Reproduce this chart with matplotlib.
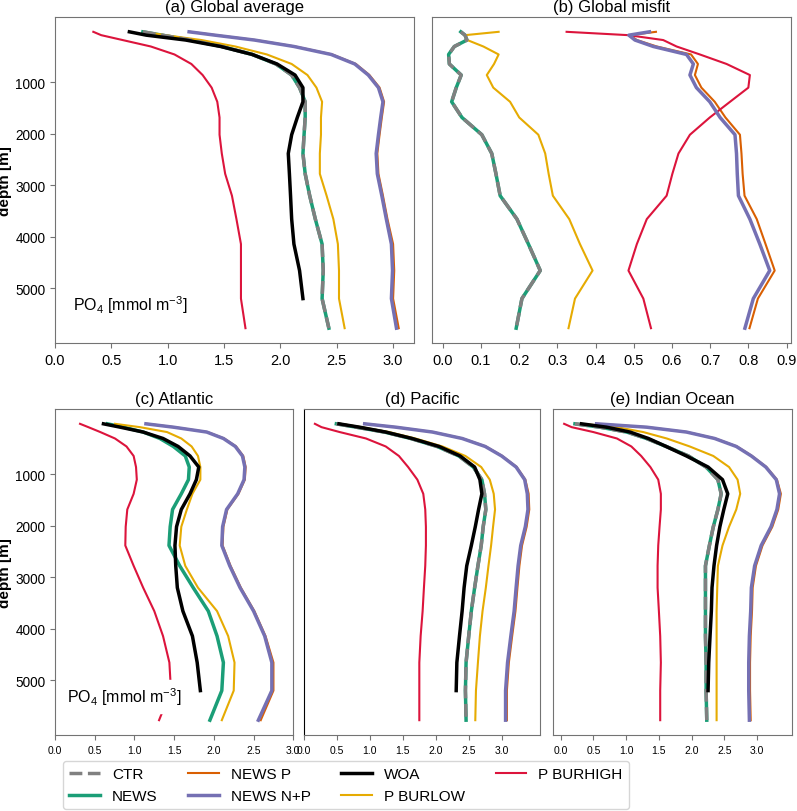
import numpy as np
import matplotlib
matplotlib.use('Agg')
import matplotlib.pyplot as plt

plt.rcParams['font.family'] = ['Liberation Sans', 'DejaVu Sans']
plt.rcParams['mathtext.fontset'] = 'custom'
plt.rcParams['mathtext.rm'] = 'Liberation Sans'
plt.rcParams['mathtext.it'] = 'Liberation Sans:italic'
plt.rcParams['mathtext.bf'] = 'Liberation Sans:bold'

nan = np.nan

# model levels [m]
depth = [17.5, 82.5, 177.5, 302.5, 457.5, 642.5, 857.5, 1102.5, 1377.5, 1682.5,
         2017.5, 2382.5, 2777.5, 3202.5, 3657.5, 4142.5, 4657.5, 5202.5, 5777.5]

# (a) global average PO4
woa_glob = [0.66, 0.81, 1.16, 1.47, 1.75, 1.97, 2.13, 2.20, 2.20, 2.15, 2.10, 2.07, 2.08, 2.09, 2.10, 2.12, 2.17, 2.20, nan]
news_glob = [0.78, 0.95, 1.20, 1.48, 1.75, 1.96, 2.10, 2.17, 2.22, 2.22, 2.21, 2.20, 2.22, 2.26, 2.31, 2.37, 2.38, 2.37, 2.43]
ctr_glob = news_glob  # CTR and NEWS lie on top of each other
newsp_glob = [1.20, 1.43, 1.78, 2.13, 2.46, 2.67, 2.79, 2.88, 2.92, 2.90, 2.88, 2.86, 2.87, 2.91, 2.95, 3.00, 3.01, 3.00, 3.05]
newsnp_glob = [1.19, 1.42, 1.77, 2.12, 2.45, 2.66, 2.78, 2.87, 2.91, 2.89, 2.87, 2.85, 2.86, 2.90, 2.94, 2.985, 2.995, 2.985, 3.03]
burlow_glob = [0.79, 0.98, 1.30, 1.60, 1.88, 2.10, 2.24, 2.32, 2.37, 2.36, 2.36, 2.35, 2.35, 2.41, 2.47, 2.51, 2.52, 2.52, 2.57]
burhigh_glob = [0.34, 0.41, 0.60, 0.85, 1.06, 1.21, 1.31, 1.39, 1.44, 1.46, 1.46, 1.48, 1.51, 1.57, 1.61, 1.65, 1.65, 1.65, 1.69]

# (b) global misfit
news_mis = [0.047, 0.058, 0.063, 0.030, 0.015, 0.017, 0.048, 0.035, 0.023, 0.050, 0.102, 0.128, 0.139, 0.150, 0.194, 0.224, 0.255, 0.207, 0.192]
ctr_mis = news_mis
newsp_mis = [0.558, 0.490, 0.508, 0.560, 0.650, 0.668, 0.660, 0.677, 0.712, 0.740, 0.778, 0.782, 0.785, 0.790, 0.822, 0.845, 0.869, 0.825, 0.803]
newsnp_mis = [0.541, 0.487, 0.503, 0.551, 0.638, 0.656, 0.647, 0.664, 0.699, 0.726, 0.765, 0.769, 0.771, 0.774, 0.804, 0.830, 0.856, 0.813, 0.791]
burlow_mis = [0.146, 0.058, 0.064, 0.106, 0.146, 0.134, 0.115, 0.132, 0.176, 0.200, 0.250, 0.268, 0.277, 0.288, 0.331, 0.359, 0.392, 0.346, 0.329]
burhigh_mis = [0.324, 0.486, 0.577, 0.612, 0.673, 0.743, 0.804, 0.800, 0.752, 0.699, 0.647, 0.617, 0.601, 0.586, 0.534, 0.508, 0.486, 0.525, 0.545]

# (c) Atlantic
woa_atl = [0.61, 0.82, 1.11, 1.36, 1.55, 1.70, 1.81, 1.78, 1.70, 1.59, 1.53, 1.51, 1.52, 1.54, 1.61, 1.73, 1.79, 1.83, nan]
news_atl = [0.66, 0.86, 1.11, 1.32, 1.49, 1.64, 1.69, 1.68, 1.59, 1.48, 1.45, 1.435, 1.57, 1.74, 1.93, 2.04, 2.12, 2.10, 1.95]
newsp_atl = [1.16, 1.50, 1.92, 2.13, 2.28, 2.37, 2.40, 2.39, 2.31, 2.17, 2.12, 2.11, 2.21, 2.34, 2.51, 2.65, 2.75, 2.75, 2.59]
newsnp_atl = [1.145, 1.49, 1.91, 2.12, 2.27, 2.36, 2.39, 2.38, 2.30, 2.16, 2.11, 2.10, 2.20, 2.33, 2.50, 2.64, 2.73, 2.73, 2.56]
burlow_atl = [0.755, 1.07, 1.41, 1.59, 1.72, 1.80, 1.83, 1.83, 1.73, 1.66, 1.59, 1.57, 1.64, 1.80, 2.04, 2.18, 2.26, 2.25, 2.10]
burhigh_atl = [0.315, 0.42, 0.57, 0.755, 0.90, 0.99, 1.02, 1.03, 0.99, 0.91, 0.89, 0.885, 0.99, 1.11, 1.25, 1.36, 1.44, 1.46, 1.31]

# (d) Pacific
woa_pac = [0.53, 0.84, 1.24, 1.64, 2.05, 2.37, 2.59, 2.67, 2.70, 2.65, 2.60, 2.54, 2.47, 2.43, 2.40, 2.36, 2.32, 2.31, nan]
news_pac = [0.49, 0.79, 1.22, 1.62, 2.02, 2.35, 2.57, 2.70, 2.74, 2.76, 2.72, 2.69, 2.64, 2.59, 2.54, 2.50, 2.46, 2.45, 2.46]
ctr_pac = news_pac
newsp_pac = [0.93, 1.40, 1.96, 2.41, 2.76, 3.01, 3.23, 3.36, 3.41, 3.42, 3.38, 3.31, 3.27, 3.24, 3.21, 3.16, 3.11, 3.08, 3.08]
newsnp_pac = [0.92, 1.39, 1.95, 2.40, 2.75, 3.00, 3.22, 3.35, 3.39, 3.40, 3.36, 3.29, 3.25, 3.22, 3.19, 3.14, 3.09, 3.06, 3.06]
burlow_pac = [0.55, 0.87, 1.29, 1.69, 2.10, 2.45, 2.69, 2.82, 2.88, 2.90, 2.87, 2.84, 2.80, 2.76, 2.71, 2.67, 2.64, 2.61, 2.60]
burhigh_pac = [0.164, 0.265, 0.54, 0.94, 1.24, 1.44, 1.58, 1.72, 1.81, 1.84, 1.85, 1.85, 1.84, 1.82, 1.80, 1.77, 1.75, 1.75, 1.75]

# (e) Indian Ocean
woa_ind = [0.32, 0.70, 1.06, 1.34, 1.61, 1.92, 2.25, 2.47, 2.55, 2.49, 2.43, 2.38, 2.34, 2.31, 2.30, 2.28, 2.26, 2.25, nan]
news_ind = [0.22, 0.60, 1.01, 1.31, 1.61, 1.95, 2.22, 2.40, 2.45, 2.40, 2.33, 2.27, 2.21, 2.21, 2.21, 2.21, 2.22, 2.22, 2.23]
ctr_ind = news_ind
newsp_ind = [0.56, 1.32, 1.93, 2.36, 2.69, 2.92, 3.14, 3.30, 3.36, 3.32, 3.23, 3.08, 2.98, 2.93, 2.92, 2.90, 2.89, 2.89, 2.90]
newsnp_ind = [0.55, 1.31, 1.92, 2.35, 2.68, 2.91, 3.13, 3.29, 3.34, 3.30, 3.21, 3.06, 2.96, 2.91, 2.90, 2.88, 2.87, 2.87, 2.88]
burlow_ind = [0.32, 0.86, 1.26, 1.62, 1.97, 2.33, 2.57, 2.70, 2.74, 2.68, 2.57, 2.47, 2.40, 2.39, 2.38, 2.38, 2.38, 2.38, 2.38]
burhigh_ind = [0.055, 0.17, 0.50, 0.86, 1.08, 1.23, 1.37, 1.49, 1.53, 1.53, 1.51, 1.49, 1.48, 1.48, 1.50, 1.52, 1.53, 1.52, 1.52]

# label: colour, linewidth, linestyle, zorder
styles = {
    'CTR': ('grey', 2.5, '--', 3),
    'NEWS': ('#1b9e77', 2.5, '-', 2),
    'NEWS P': ('#d95f02', 1.5, '-', 2),
    'NEWS N+P': ('#7570b3', 2.5, '-', 3),
    'WOA': ('black', 2.5, '-', 4),
    'P BURLOW': ('#e6ab02', 1.5, '-', 2),
    'P BURHIGH': ('crimson', 1.5, '-', 2),
}

panels = [
    ('(a) Global average', {'CTR': ctr_glob, 'NEWS': news_glob, 'NEWS P': newsp_glob,
                            'NEWS N+P': newsnp_glob, 'WOA': woa_glob,
                            'P BURLOW': burlow_glob, 'P BURHIGH': burhigh_glob}),
    ('(b) Global misfit', {'CTR': ctr_mis, 'NEWS': news_mis, 'NEWS P': newsp_mis,
                           'NEWS N+P': newsnp_mis, 'P BURLOW': burlow_mis,
                           'P BURHIGH': burhigh_mis}),
    ('(c) Atlantic', {'NEWS': news_atl, 'NEWS P': newsp_atl, 'NEWS N+P': newsnp_atl,
                      'WOA': woa_atl, 'P BURLOW': burlow_atl, 'P BURHIGH': burhigh_atl}),
    ('(d) Pacific', {'CTR': ctr_pac, 'NEWS': news_pac, 'NEWS P': newsp_pac,
                     'NEWS N+P': newsnp_pac, 'WOA': woa_pac,
                     'P BURLOW': burlow_pac, 'P BURHIGH': burhigh_pac}),
    ('(e) Indian Ocean', {'CTR': ctr_ind, 'NEWS': news_ind, 'NEWS P': newsp_ind,
                          'NEWS N+P': newsnp_ind, 'WOA': woa_ind,
                          'P BURLOW': burlow_ind, 'P BURHIGH': burhigh_ind}),
]

W, H = 797, 812
fig = plt.figure(figsize=(W / 100, H / 100), dpi=100)

def box(l, r, t, b):
    return [l / W, 1 - b / H, (r - l) / W, (b - t) / H]

boxes = [box(55, 414, 18, 344), box(432.3, 791, 18, 344),
         box(55, 293.3, 410, 736), box(304.1, 540, 410, 736), box(553.3, 791.7, 410, 736)]

handles = {}
for i, (title, series) in enumerate(panels):
    ax = fig.add_axes(boxes[i])
    for name, vals in series.items():
        c, lw, ls, z = styles[name]
        ln, = ax.plot(vals, depth, color=c, lw=lw, ls=ls, zorder=z, label=name)
        handles.setdefault(name, ln)
    ax.invert_yaxis()
    ax.set_title(title, fontsize=12, pad=4)
    for sp in ax.spines.values():
        sp.set_color('0.45')
    if i == 1:
        ax.set_xticks(np.arange(0, 0.91, 0.1))
    else:
        ax.set_xticks(np.arange(0, 3.01, 0.5))
    ax.set_yticks([1000, 2000, 3000, 4000, 5000])
    ax.tick_params(colors='0.45', labelcolor='black', labelsize=10.5)
    ax.tick_params(axis='y', labelsize=9.8)
    if i >= 2:
        ax.tick_params(axis='x', labelsize=7.5)
    if i in (0, 2):
        ax.set_ylabel('depth [m]', fontsize=11, fontweight='bold', labelpad=2)
        ax.text(0.05, 0.1, r'PO$_4$ [mmol m$^{-3}$]', transform=ax.transAxes,
                fontsize=11.5, backgroundcolor='white', zorder=6)
    else:
        ax.tick_params(axis='y', left=False, labelleft=False)
    if i == 3:
        ax.spines['left'].set_color('black')
    ax.xaxis.set_major_formatter(matplotlib.ticker.FormatStrFormatter('%.1f'))

order = ['CTR', 'NEWS', 'NEWS P', 'NEWS N+P', 'WOA', 'P BURLOW', 'P BURHIGH']
fig.legend([handles[k] for k in order], order, ncol=4, fontsize=11,
           loc='lower left', bbox_to_anchor=(0.079, 0.0025), borderaxespad=0)

fig.savefig('out.png', dpi=100)
